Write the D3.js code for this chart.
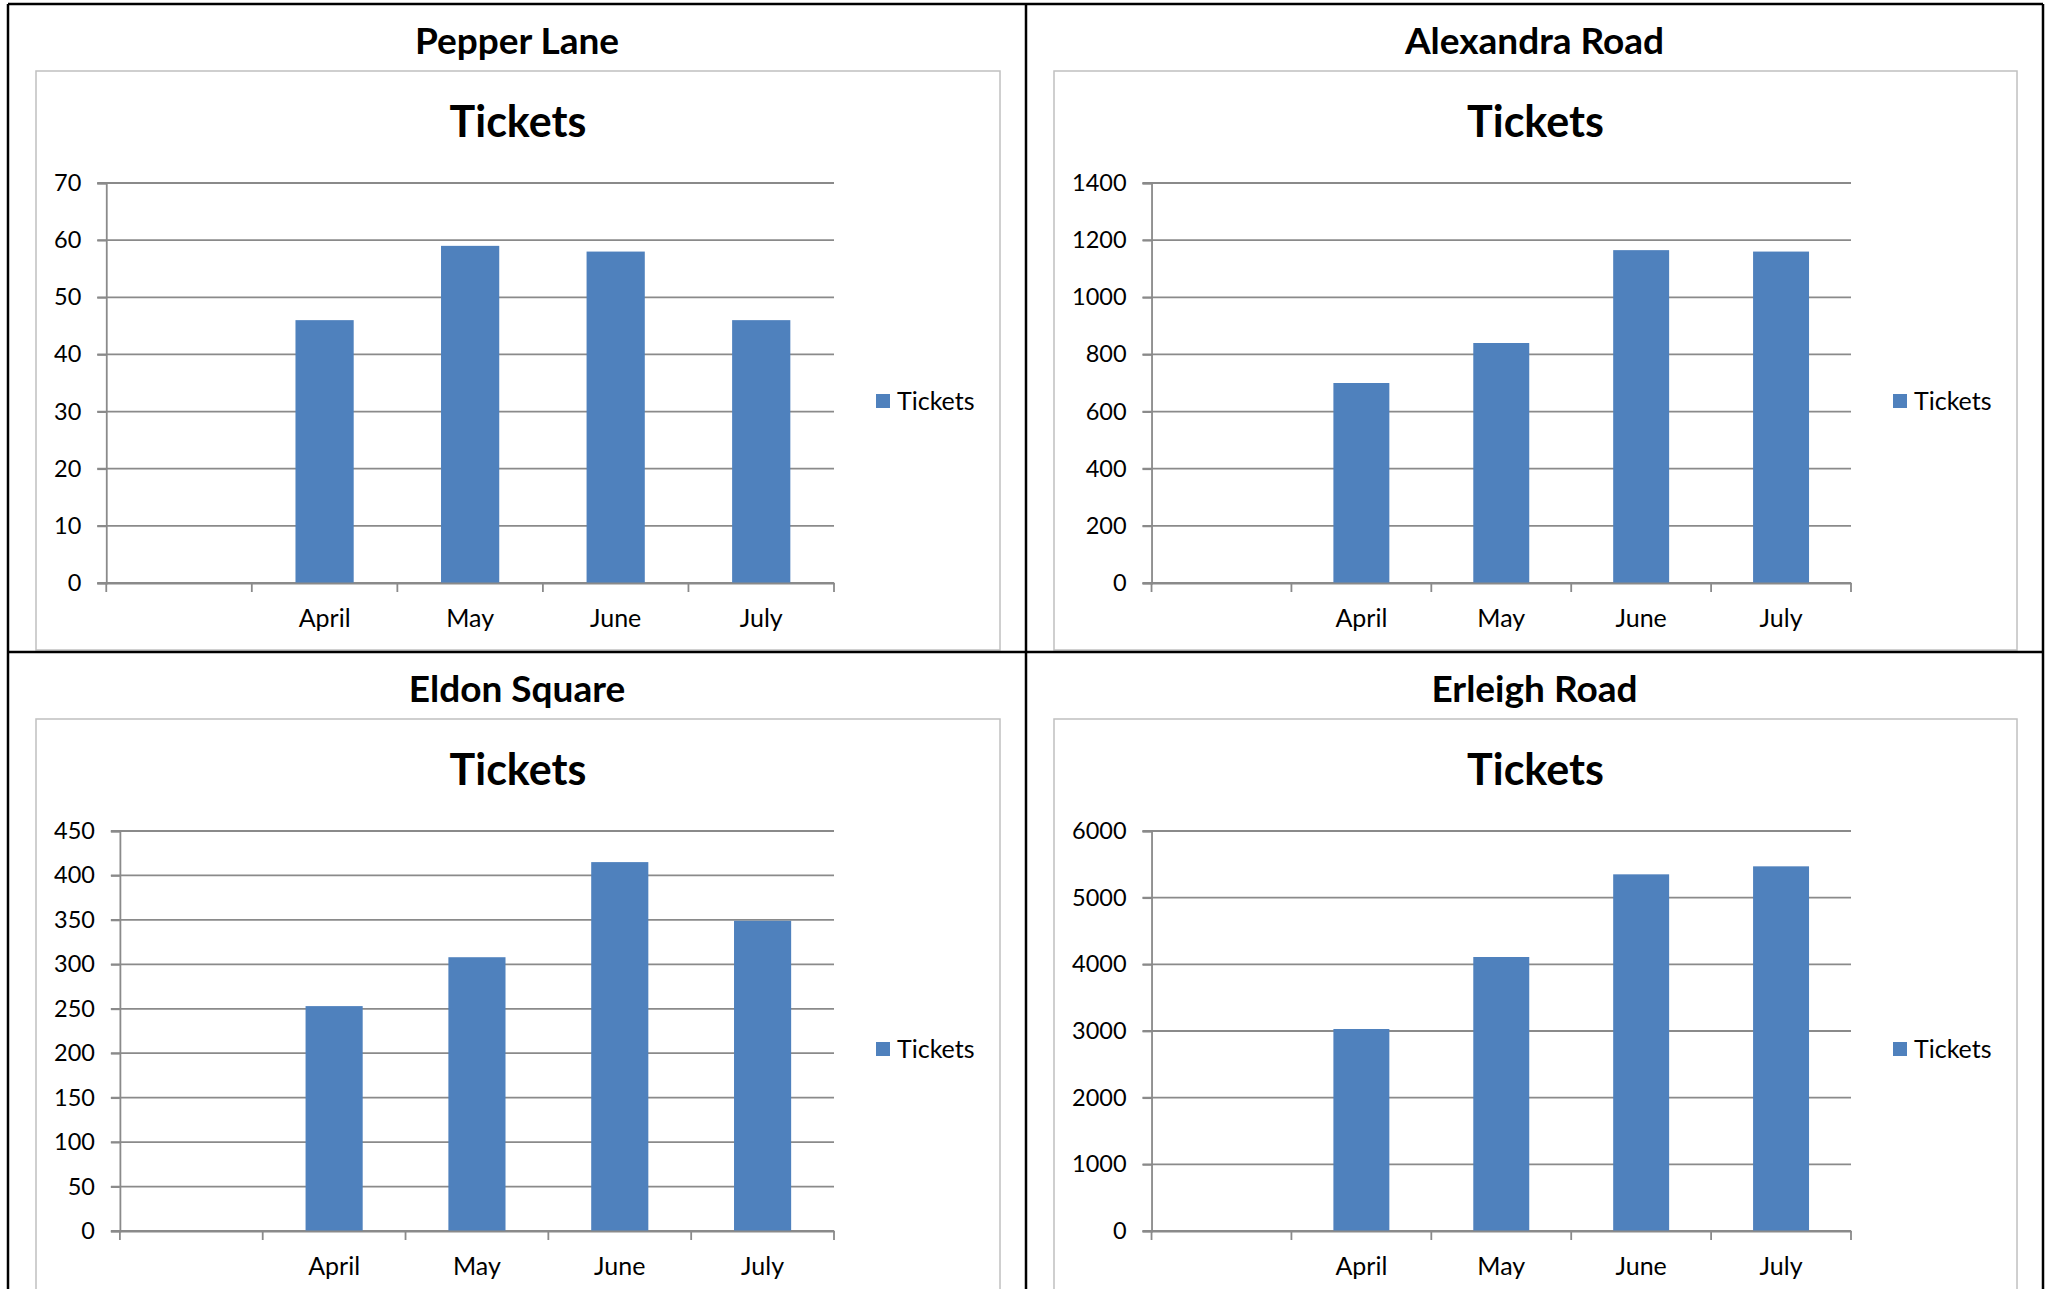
<!DOCTYPE html>
<html>
<head>
<meta charset="utf-8">
<script src="https://cdn.jsdelivr.net/npm/d3@7"></script>
<style>
  html, body { margin: 0; padding: 0; background: #fff; }
  svg { display: block; }
  text { font-family: Lato, "Open Sans", sans-serif; }
</style>
</head>
<body>
<svg id="chart" width="2051" height="1289"></svg>
<script>
// ---------------- data ----------------
const categories = ["", "April", "May", "June", "July"];
const panelTitles = ["Pepper Lane", "Alexandra Road", "Eldon Square", "Erleigh Road"];
const chartTitle = "Tickets";
const seriesName = "Tickets";

const pepperLane    = [null, 46, 59, 58, 46];
const alexandraRoad = [null, 700, 840, 1165, 1160];
const eldonSquare   = [null, 253, 308, 415, 349];
const erleighRoad   = [null, 3030, 4110, 5350, 5470];

const pepperTicks    = [0, 10, 20, 30, 40, 50, 60, 70];
const alexandraTicks = [0, 200, 400, 600, 800, 1000, 1200, 1400];
const eldonTicks     = [0, 50, 100, 150, 200, 250, 300, 350, 400, 450];
const erleighTicks   = [0, 1000, 2000, 3000, 4000, 5000, 6000];

// ---------------- layout ----------------
const W = 2051, H = 1289;
const BAR = "#4F81BD", GRID = "#8a8a8a";
const frame = { left: 8, right: 2043, top: 4, midX: 1026, midY: 652 };

const panels = [
  { title: panelTitles[0], values: pepperLane,    ticks: pepperTicks,    x0: frame.left, x1: frame.midX,  y0: frame.top,  y1: frame.midY },
  { title: panelTitles[1], values: alexandraRoad, ticks: alexandraTicks, x0: frame.midX, x1: frame.right, y0: frame.top,  y1: frame.midY },
  { title: panelTitles[2], values: eldonSquare,   ticks: eldonTicks,     x0: frame.left, x1: frame.midX,  y0: frame.midY, y1: H + 40 },
  { title: panelTitles[3], values: erleighRoad,   ticks: erleighTicks,   x0: frame.midX, x1: frame.right, y0: frame.midY, y1: H + 40 }
];

const svg = d3.select("#chart");
svg.append("rect").attr("width", W).attr("height", H).attr("fill", "#fff");

// measurement helper
const meas = svg.append("text").attr("font-size", 23.5).attr("visibility", "hidden");
function textW(s) { meas.text(s); return meas.node().getComputedTextLength(); }

panels.forEach(p => {
  const g = svg.append("g");
  const boxL = p.x0 + 28, boxR = p.x1 - 26, boxT = p.y0 + 67, boxB = p.y1 - 2;
  const cx = (p.x0 + p.x1) / 2;

  // chart area box
  g.append("rect")
    .attr("x", boxL).attr("y", boxT)
    .attr("width", boxR - boxL).attr("height", boxB - boxT)
    .attr("fill", "#fff").attr("stroke", "#c0c0c0").attr("stroke-width", 1.5);

  // panel title
  g.append("text").attr("x", cx).attr("y", p.y0 + 50)
    .attr("text-anchor", "middle").attr("font-size", 37).attr("font-weight", 700)
    .attr("fill", "#000").text(p.title);

  // chart title
  g.append("text").attr("x", (boxL + boxR) / 2).attr("y", p.y0 + 133)
    .attr("text-anchor", "middle").attr("font-size", 43).attr("font-weight", 700)
    .attr("fill", "#000").text(chartTitle);

  const maxLabel = d3.max(p.ticks, t => textW(String(t)));
  const plotL = boxL + 18 + maxLabel + 25;
  const plotR = boxR - 166;
  const plotT = p.y0 + 179, plotB = p.y0 + 579;

  const y = d3.scaleLinear().domain([0, d3.max(p.ticks)]).range([plotB, plotT]);
  const x = d3.scaleBand().domain(categories).range([plotL, plotR]).padding(0);

  // gridlines (extending left as tick marks)
  g.append("g").selectAll("line").data(p.ticks).join("line")
    .attr("x1", plotL - 9).attr("x2", plotR)
    .attr("y1", d => y(d)).attr("y2", d => y(d))
    .attr("stroke", GRID).attr("stroke-width", 1.8);

  // y axis
  const ya = g.append("g").attr("transform", `translate(${plotL},0)`)
    .call(d3.axisLeft(y).tickValues(p.ticks).tickSize(9).tickPadding(16).tickFormat(d3.format("d")));
  ya.select(".domain").attr("stroke", GRID).attr("stroke-width", 1.8);
  ya.selectAll(".tick line").attr("stroke", GRID).attr("stroke-width", 1.8);
  ya.selectAll("text").attr("font-size", 23.5).attr("fill", "#000").attr("font-family", "Lato, sans-serif");

  // bars
  const bw = x.bandwidth() * 0.4;
  g.append("g").selectAll("rect").data(categories.map((c, i) => ({ c, v: p.values[i] })).filter(d => d.v != null))
    .join("rect")
    .attr("x", d => x(d.c) + (x.bandwidth() - bw) / 2)
    .attr("y", d => y(d.v))
    .attr("width", bw)
    .attr("height", d => y(0) - y(d.v))
    .attr("fill", BAR);

  // x axis
  const xa = g.append("g").attr("transform", `translate(0,${plotB})`)
    .call(d3.axisBottom(x).tickSize(0).tickPadding(26));
  xa.select(".domain").attr("stroke", GRID).attr("stroke-width", 1.8);
  xa.selectAll("text").attr("font-size", 25).attr("fill", "#000").attr("font-family", "Lato, sans-serif");
  // tick marks at category boundaries
  const bounds = categories.map(c => x(c)).concat([plotR]);
  g.append("g").selectAll("line").data(bounds).join("line")
    .attr("x1", d => d).attr("x2", d => d)
    .attr("y1", plotB).attr("y2", plotB + 9)
    .attr("stroke", GRID).attr("stroke-width", 1.8);

  // legend
  const lg = g.append("g").attr("transform", `translate(${boxR - 124},${p.y0 + 397})`);
  lg.append("rect").attr("x", 0).attr("y", -7).attr("width", 14).attr("height", 14).attr("fill", BAR);
  lg.append("text").attr("x", 21).attr("y", 8.5).attr("font-size", 25).attr("fill", "#000").text(seriesName);
});

meas.remove();

// outer frame
const fg = svg.append("g").attr("stroke", "#000").attr("stroke-width", 2.5).attr("fill", "none");
fg.append("line").attr("x1", frame.left).attr("x2", frame.right).attr("y1", frame.top).attr("y2", frame.top);
fg.append("line").attr("x1", frame.left).attr("x2", frame.left).attr("y1", frame.top).attr("y2", H + 5);
fg.append("line").attr("x1", frame.right).attr("x2", frame.right).attr("y1", frame.top).attr("y2", H + 5);
fg.append("line").attr("x1", frame.midX).attr("x2", frame.midX).attr("y1", frame.top).attr("y2", H + 5);
fg.append("line").attr("x1", frame.left).attr("x2", frame.right).attr("y1", frame.midY).attr("y2", frame.midY);
</script>
</body>
</html>
